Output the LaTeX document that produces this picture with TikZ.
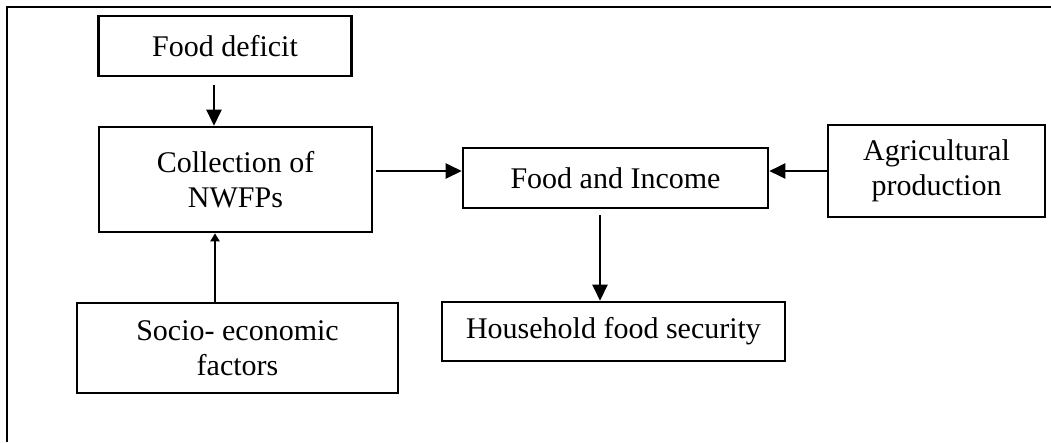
\documentclass[tikz,border=0pt]{standalone}
\usepackage{fontspec}
\setmainfont{Liberation Serif}
\usetikzlibrary{arrows.meta}
\begin{document}
\begin{tikzpicture}[x=1pt,y=-1pt,
  box/.style={draw=black,line width=2.6pt,rectangle,inner sep=0pt,align=center,
    font=\fontsize{30}{35}\selectfont},
  arr/.style={draw=black,line width=2.4pt,-{Triangle[length=16pt,width=15pt]}},
  frameline/.style={draw=black,line width=2.6pt}]
\useasboundingbox (0,0) rectangle (1051,442);
\node[box,minimum width=253pt,minimum height=60pt] (fd) at (225,46) {Food deficit};
\node[box,minimum width=273pt,minimum height=105pt] (col) at (235.5,179.5) {Collection of\\NWFPs};
\node[box,minimum width=321pt,minimum height=90pt] (se) at (237.5,348) {Socio- economic\\factors};
\node[box,minimum width=305pt,minimum height=60pt] (fi) at (615.5,178) {Food and Income};
\node[box,minimum width=217pt,minimum height=92pt] (ag) at (936.5,171) {Agricultural\\production};
\node[box,minimum width=343pt,minimum height=59pt] (hh) at (613.5,331.5) {Household food security};
\draw[frameline] (7,442) -- (7,7) -- (1051,7);
\draw[arr] ([shift={(-11pt,-8pt)}]fd.south) coordinate (a1) -- (a1 |- col.north);
\draw[arr] ([shift={(3pt,8.5pt)}]col.east) coordinate (a2) -- (a2 -| fi.west);
\draw[arr] (ag.west) -- (ag.west -| fi.east);
\draw[arr] ([shift={(-15.5pt,-6pt)}]fi.south) coordinate (a3) -- (a3 |- hh.north);
\draw[arr,-{Triangle[length=8pt,width=9pt]}] ([xshift=-22.5pt]se.north) coordinate (a4) -- (a4 |- col.south);
\end{tikzpicture}
\end{document}
